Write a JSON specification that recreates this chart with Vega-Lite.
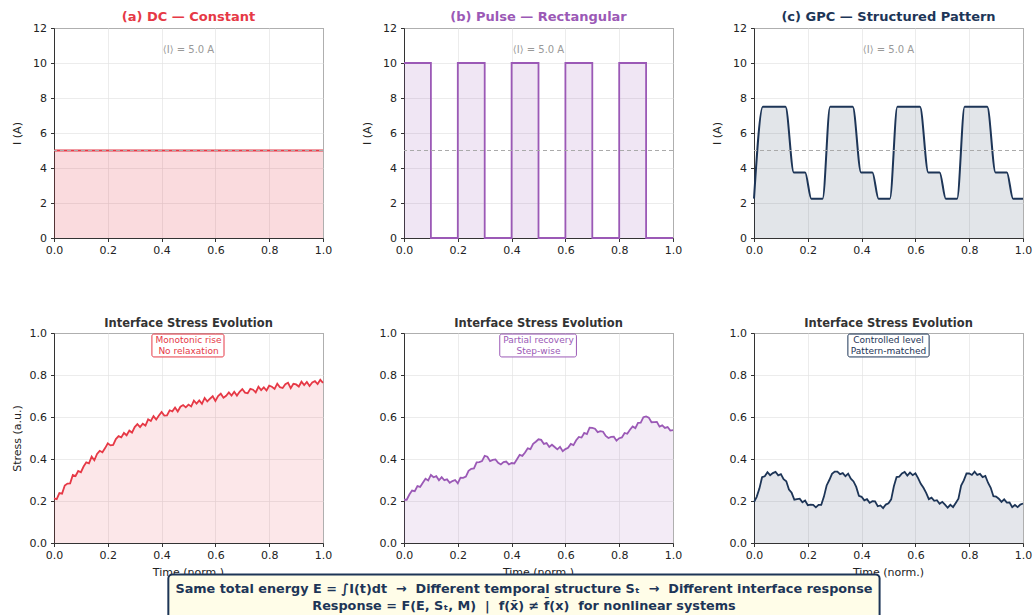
{
  "$schema": "https://vega.github.io/schema/vega-lite/v6.json",
  "padding": {"left": 10, "top": 10, "right": 0, "bottom": 0},
  "background": "white",
  "config": {
    "font": "DejaVu Sans",
    "view": {"stroke": "#333", "strokeWidth": 1},
    "axis": {"labelFontSize": 11, "labelColor": "#222", "titleFontSize": 11, "titleFontWeight": "normal", "titleColor": "#222", "gridColor": "#e4e4e4", "gridOpacity": 0.7, "domainColor": "#333", "tickColor": "#333", "tickSize": 3.5, "labelPadding": 3, "titlePadding": 6, "labelFlush": false, "labelOverlap": false},
    "axisY": {"minExtent": 26, "labelPadding": 4},
    "title": {"fontSize": 13, "fontWeight": "bold", "offset": -2}
  },
  "datasets": {
    "a": [{"t": 0, "y": 5}, {"t": 1, "y": 5}],
    "b": [{"t": 0, "y": 10}, {"t": 0.1, "y": 0}, {"t": 0.2, "y": 10}, {"t": 0.3, "y": 0}, {"t": 0.4, "y": 10}, {"t": 0.5, "y": 0}, {"t": 0.6, "y": 10}, {"t": 0.7, "y": 0}, {"t": 0.8, "y": 10}, {"t": 0.9, "y": 0}, {"t": 1.0, "y": 0}],
    "c": [{"t": 0, "y": 2.25}, {"t": 0.033, "y": 7.5}, {"t": 0.117, "y": 7.5}, {"t": 0.148, "y": 3.75}, {"t": 0.19, "y": 3.75}, {"t": 0.213, "y": 2.25}, {"t": 0.255, "y": 2.25},
          {"t": 0.283, "y": 7.5}, {"t": 0.367, "y": 7.5}, {"t": 0.398, "y": 3.75}, {"t": 0.44, "y": 3.75}, {"t": 0.463, "y": 2.25}, {"t": 0.505, "y": 2.25},
          {"t": 0.533, "y": 7.5}, {"t": 0.617, "y": 7.5}, {"t": 0.648, "y": 3.75}, {"t": 0.69, "y": 3.75}, {"t": 0.713, "y": 2.25}, {"t": 0.755, "y": 2.25},
          {"t": 0.783, "y": 7.5}, {"t": 0.867, "y": 7.5}, {"t": 0.898, "y": 3.75}, {"t": 0.94, "y": 3.75}, {"t": 0.963, "y": 2.25}, {"t": 1.0, "y": 2.25}],
    "d": [{"t":0,"y":0.212},{"t":0.01,"y":0.209},{"t":0.02,"y":0.238},{"t":0.03,"y":0.235},{"t":0.04,"y":0.274},{"t":0.05,"y":0.283},{"t":0.06,"y":0.284},{"t":0.07,"y":0.324},{"t":0.08,"y":0.319},{"t":0.09,"y":0.343},{"t":0.1,"y":0.337},{"t":0.11,"y":0.364},{"t":0.12,"y":0.384},{"t":0.13,"y":0.379},{"t":0.14,"y":0.411},{"t":0.15,"y":0.394},{"t":0.16,"y":0.424},{"t":0.17,"y":0.439},{"t":0.18,"y":0.432},{"t":0.19,"y":0.452},{"t":0.2,"y":0.475},{"t":0.21,"y":0.465},{"t":0.22,"y":0.467},{"t":0.23,"y":0.495},{"t":0.24,"y":0.509},{"t":0.25,"y":0.503},{"t":0.26,"y":0.524},{"t":0.27,"y":0.513},{"t":0.28,"y":0.535},{"t":0.29,"y":0.526},{"t":0.3,"y":0.552},{"t":0.31,"y":0.566},{"t":0.32,"y":0.552},{"t":0.33,"y":0.568},{"t":0.34,"y":0.559},{"t":0.35,"y":0.589},{"t":0.36,"y":0.581},{"t":0.37,"y":0.604},{"t":0.38,"y":0.588},{"t":0.39,"y":0.607},{"t":0.4,"y":0.624},{"t":0.41,"y":0.607},{"t":0.42,"y":0.608},{"t":0.43,"y":0.632},{"t":0.44,"y":0.627},{"t":0.45,"y":0.645},{"t":0.46,"y":0.626},{"t":0.47,"y":0.649},{"t":0.48,"y":0.657},{"t":0.49,"y":0.646},{"t":0.5,"y":0.659},{"t":0.51,"y":0.65},{"t":0.52,"y":0.678},{"t":0.53,"y":0.664},{"t":0.54,"y":0.679},{"t":0.55,"y":0.663},{"t":0.56,"y":0.691},{"t":0.57,"y":0.674},{"t":0.58,"y":0.687},{"t":0.59,"y":0.699},{"t":0.6,"y":0.677},{"t":0.61,"y":0.7},{"t":0.62,"y":0.711},{"t":0.63,"y":0.692},{"t":0.64,"y":0.701},{"t":0.65,"y":0.717},{"t":0.66,"y":0.702},{"t":0.67,"y":0.72},{"t":0.68,"y":0.702},{"t":0.69,"y":0.72},{"t":0.7,"y":0.733},{"t":0.71,"y":0.716},{"t":0.72,"y":0.713},{"t":0.73,"y":0.734},{"t":0.74,"y":0.73},{"t":0.75,"y":0.717},{"t":0.76,"y":0.744},{"t":0.77,"y":0.728},{"t":0.78,"y":0.741},{"t":0.79,"y":0.726},{"t":0.8,"y":0.749},{"t":0.81,"y":0.744},{"t":0.82,"y":0.734},{"t":0.83,"y":0.759},{"t":0.84,"y":0.742},{"t":0.85,"y":0.738},{"t":0.86,"y":0.756},{"t":0.87,"y":0.763},{"t":0.88,"y":0.737},{"t":0.89,"y":0.758},{"t":0.9,"y":0.755},{"t":0.91,"y":0.745},{"t":0.92,"y":0.768},{"t":0.93,"y":0.752},{"t":0.94,"y":0.767},{"t":0.95,"y":0.748},{"t":0.96,"y":0.765},{"t":0.97,"y":0.771},{"t":0.98,"y":0.757},{"t":0.99,"y":0.777},{"t":1,"y":0.763}],
    "e": [{"t":0,"y":0.206},{"t":0.01,"y":0.206},{"t":0.02,"y":0.231},{"t":0.03,"y":0.25},{"t":0.04,"y":0.247},{"t":0.05,"y":0.271},{"t":0.06,"y":0.267},{"t":0.07,"y":0.287},{"t":0.08,"y":0.306},{"t":0.09,"y":0.298},{"t":0.1,"y":0.324},{"t":0.11,"y":0.313},{"t":0.12,"y":0.318},{"t":0.13,"y":0.299},{"t":0.14,"y":0.314},{"t":0.15,"y":0.299},{"t":0.16,"y":0.303},{"t":0.17,"y":0.287},{"t":0.18,"y":0.295},{"t":0.19,"y":0.3},{"t":0.2,"y":0.284},{"t":0.21,"y":0.311},{"t":0.22,"y":0.31},{"t":0.23,"y":0.316},{"t":0.24,"y":0.344},{"t":0.25,"y":0.353},{"t":0.26,"y":0.355},{"t":0.27,"y":0.384},{"t":0.28,"y":0.385},{"t":0.29,"y":0.39},{"t":0.3,"y":0.415},{"t":0.31,"y":0.411},{"t":0.32,"y":0.39},{"t":0.33,"y":0.396},{"t":0.34,"y":0.398},{"t":0.35,"y":0.382},{"t":0.36,"y":0.374},{"t":0.37,"y":0.385},{"t":0.38,"y":0.388},{"t":0.39,"y":0.374},{"t":0.4,"y":0.381},{"t":0.41,"y":0.379},{"t":0.42,"y":0.399},{"t":0.43,"y":0.42},{"t":0.44,"y":0.415},{"t":0.45,"y":0.431},{"t":0.46,"y":0.451},{"t":0.47,"y":0.447},{"t":0.48,"y":0.472},{"t":0.49,"y":0.482},{"t":0.5,"y":0.494},{"t":0.51,"y":0.491},{"t":0.52,"y":0.472},{"t":0.53,"y":0.476},{"t":0.54,"y":0.457},{"t":0.55,"y":0.468},{"t":0.56,"y":0.457},{"t":0.57,"y":0.446},{"t":0.58,"y":0.458},{"t":0.59,"y":0.437},{"t":0.6,"y":0.447},{"t":0.61,"y":0.453},{"t":0.62,"y":0.472},{"t":0.63,"y":0.466},{"t":0.64,"y":0.489},{"t":0.65,"y":0.505},{"t":0.66,"y":0.502},{"t":0.67,"y":0.524},{"t":0.68,"y":0.519},{"t":0.69,"y":0.549},{"t":0.7,"y":0.548},{"t":0.71,"y":0.544},{"t":0.72,"y":0.528},{"t":0.73,"y":0.533},{"t":0.74,"y":0.53},{"t":0.75,"y":0.51},{"t":0.76,"y":0.5},{"t":0.77,"y":0.505},{"t":0.78,"y":0.506},{"t":0.79,"y":0.487},{"t":0.8,"y":0.499},{"t":0.81,"y":0.503},{"t":0.82,"y":0.524},{"t":0.83,"y":0.52},{"t":0.84,"y":0.539},{"t":0.85,"y":0.555},{"t":0.86,"y":0.547},{"t":0.87,"y":0.572},{"t":0.88,"y":0.573},{"t":0.89,"y":0.599},{"t":0.9,"y":0.603},{"t":0.91,"y":0.597},{"t":0.92,"y":0.575},{"t":0.93,"y":0.576},{"t":0.94,"y":0.577},{"t":0.95,"y":0.554},{"t":0.96,"y":0.56},{"t":0.97,"y":0.548},{"t":0.98,"y":0.552},{"t":0.99,"y":0.535},{"t":1,"y":0.537}],
    "f": [{"t":0,"y":0.195},{"t":0.01,"y":0.22},{"t":0.02,"y":0.259},{"t":0.03,"y":0.313},{"t":0.04,"y":0.318},{"t":0.05,"y":0.337},{"t":0.06,"y":0.323},{"t":0.07,"y":0.333},{"t":0.08,"y":0.339},{"t":0.09,"y":0.322},{"t":0.1,"y":0.328},{"t":0.11,"y":0.304},{"t":0.12,"y":0.294},{"t":0.13,"y":0.255},{"t":0.14,"y":0.239},{"t":0.15,"y":0.206},{"t":0.16,"y":0.209},{"t":0.17,"y":0.211},{"t":0.18,"y":0.194},{"t":0.19,"y":0.202},{"t":0.2,"y":0.18},{"t":0.21,"y":0.183},{"t":0.22,"y":0.182},{"t":0.23,"y":0.17},{"t":0.24,"y":0.182},{"t":0.25,"y":0.182},{"t":0.26,"y":0.221},{"t":0.27,"y":0.274},{"t":0.28,"y":0.3},{"t":0.29,"y":0.329},{"t":0.3,"y":0.34},{"t":0.31,"y":0.34},{"t":0.32,"y":0.328},{"t":0.33,"y":0.333},{"t":0.34,"y":0.318},{"t":0.35,"y":0.33},{"t":0.36,"y":0.306},{"t":0.37,"y":0.293},{"t":0.38,"y":0.267},{"t":0.39,"y":0.225},{"t":0.4,"y":0.22},{"t":0.41,"y":0.203},{"t":0.42,"y":0.209},{"t":0.43,"y":0.191},{"t":0.44,"y":0.199},{"t":0.45,"y":0.198},{"t":0.46,"y":0.175},{"t":0.47,"y":0.179},{"t":0.48,"y":0.166},{"t":0.49,"y":0.183},{"t":0.5,"y":0.189},{"t":0.51,"y":0.208},{"t":0.52,"y":0.27},{"t":0.53,"y":0.314},{"t":0.54,"y":0.316},{"t":0.55,"y":0.331},{"t":0.56,"y":0.338},{"t":0.57,"y":0.321},{"t":0.58,"y":0.335},{"t":0.59,"y":0.323},{"t":0.6,"y":0.332},{"t":0.61,"y":0.309},{"t":0.62,"y":0.282},{"t":0.63,"y":0.263},{"t":0.64,"y":0.239},{"t":0.65,"y":0.209},{"t":0.66,"y":0.216},{"t":0.67,"y":0.201},{"t":0.68,"y":0.204},{"t":0.69,"y":0.187},{"t":0.7,"y":0.196},{"t":0.71,"y":0.183},{"t":0.72,"y":0.168},{"t":0.73,"y":0.182},{"t":0.74,"y":0.171},{"t":0.75,"y":0.191},{"t":0.76,"y":0.211},{"t":0.77,"y":0.273},{"t":0.78,"y":0.298},{"t":0.79,"y":0.331},{"t":0.8,"y":0.331},{"t":0.81,"y":0.324},{"t":0.82,"y":0.34},{"t":0.83,"y":0.324},{"t":0.84,"y":0.329},{"t":0.85,"y":0.314},{"t":0.86,"y":0.319},{"t":0.87,"y":0.287},{"t":0.88,"y":0.263},{"t":0.89,"y":0.223},{"t":0.9,"y":0.221},{"t":0.91,"y":0.211},{"t":0.92,"y":0.196},{"t":0.93,"y":0.208},{"t":0.94,"y":0.192},{"t":0.95,"y":0.193},{"t":0.96,"y":0.171},{"t":0.97,"y":0.181},{"t":0.98,"y":0.171},{"t":0.99,"y":0.183},{"t":1,"y":0.188}]
  },
  "spacing": 61,
  "vconcat": [
    {
      "bounds": "flush",
      "spacing": 81,
      "hconcat": [
        {
          "width": 269, "height": 210,
          "title": {"text": "(a) DC — Constant", "color": "#e63946"},
          "layer": [
            {"data": {"name": "a"}, "mark": {"type": "area", "color": "#e63946", "opacity": 0.18},
             "encoding": {
              "x": {"field": "t", "type": "quantitative", "scale": {"domain": [0, 1], "nice": false}, "axis": {"title": null, "values": [0, 0.2, 0.4, 0.6, 0.8, 1], "format": ".1f"}},
              "y": {"field": "y", "type": "quantitative", "scale": {"domain": [0, 12], "nice": false}, "axis": {"title": "I (A)", "values": [0, 2, 4, 6, 8, 10, 12]}}}},
            {"data": {"name": "a"}, "mark": {"type": "line", "color": "#e63946", "strokeWidth": 2},
             "encoding": {"x": {"field": "t", "type": "quantitative"}, "y": {"field": "y", "type": "quantitative", "axis": {"title": "I (A)", "values": [0, 2, 4, 6, 8, 10, 12]}}}},
            {"data": {"values": [{}]}, "mark": {"type": "rule", "color": "#aaaaaa", "strokeDash": [4, 3], "strokeWidth": 1}, "encoding": {"y": {"datum": 5, "type": "quantitative", "axis": {"title": "I (A)", "values": [0, 2, 4, 6, 8, 10, 12]}}}},
            {"data": {"values": [{}]}, "mark": {"type": "text", "text": "⟨I⟩ = 5.0 A", "color": "#999999", "fontSize": 10}, "encoding": {"x": {"datum": 0.5, "type": "quantitative"}, "y": {"datum": 10.75, "type": "quantitative", "axis": {"title": "I (A)", "values": [0, 2, 4, 6, 8, 10, 12]}}}}
          ]
        },
        {
          "width": 269, "height": 210,
          "title": {"text": "(b) Pulse — Rectangular", "color": "#9b59b6"},
          "layer": [
            {"data": {"name": "b"}, "mark": {"type": "area", "color": "#9b59b6", "opacity": 0.15, "interpolate": "step-after"},
             "encoding": {
              "x": {"field": "t", "type": "quantitative", "scale": {"domain": [0, 1], "nice": false}, "axis": {"title": null, "values": [0, 0.2, 0.4, 0.6, 0.8, 1], "format": ".1f"}},
              "y": {"field": "y", "type": "quantitative", "scale": {"domain": [0, 12], "nice": false}, "axis": {"title": "I (A)", "values": [0, 2, 4, 6, 8, 10, 12]}}}},
            {"data": {"name": "b"}, "mark": {"type": "line", "color": "#9b59b6", "strokeWidth": 1.8, "interpolate": "step-after"},
             "encoding": {"x": {"field": "t", "type": "quantitative"}, "y": {"field": "y", "type": "quantitative", "axis": {"title": "I (A)", "values": [0, 2, 4, 6, 8, 10, 12]}}}},
            {"data": {"values": [{}]}, "mark": {"type": "rule", "color": "#aaaaaa", "strokeDash": [4, 3], "strokeWidth": 1}, "encoding": {"y": {"datum": 5, "type": "quantitative", "axis": {"title": "I (A)", "values": [0, 2, 4, 6, 8, 10, 12]}}}},
            {"data": {"values": [{}]}, "mark": {"type": "text", "text": "⟨I⟩ = 5.0 A", "color": "#999999", "fontSize": 10}, "encoding": {"x": {"datum": 0.5, "type": "quantitative"}, "y": {"datum": 10.75, "type": "quantitative", "axis": {"title": "I (A)", "values": [0, 2, 4, 6, 8, 10, 12]}}}}
          ]
        },
        {
          "width": 269, "height": 210,
          "title": {"text": "(c) GPC — Structured Pattern", "color": "#1d3557"},
          "layer": [
            {"data": {"name": "c"}, "mark": {"type": "area", "color": "#1d3557", "opacity": 0.13, "interpolate": "monotone"},
             "encoding": {
              "x": {"field": "t", "type": "quantitative", "scale": {"domain": [0, 1], "nice": false}, "axis": {"title": null, "values": [0, 0.2, 0.4, 0.6, 0.8, 1], "format": ".1f"}},
              "y": {"field": "y", "type": "quantitative", "scale": {"domain": [0, 12], "nice": false}, "axis": {"title": "I (A)", "values": [0, 2, 4, 6, 8, 10, 12]}}}},
            {"data": {"name": "c"}, "mark": {"type": "line", "color": "#1d3557", "strokeWidth": 2, "interpolate": "monotone"},
             "encoding": {"x": {"field": "t", "type": "quantitative"}, "y": {"field": "y", "type": "quantitative", "axis": {"title": "I (A)", "values": [0, 2, 4, 6, 8, 10, 12]}}}},
            {"data": {"values": [{}]}, "mark": {"type": "rule", "color": "#aaaaaa", "strokeDash": [4, 3], "strokeWidth": 1}, "encoding": {"y": {"datum": 5, "type": "quantitative", "axis": {"title": "I (A)", "values": [0, 2, 4, 6, 8, 10, 12]}}}},
            {"data": {"values": [{}]}, "mark": {"type": "text", "text": "⟨I⟩ = 5.0 A", "color": "#999999", "fontSize": 10}, "encoding": {"x": {"datum": 0.5, "type": "quantitative"}, "y": {"datum": 10.75, "type": "quantitative", "axis": {"title": "I (A)", "values": [0, 2, 4, 6, 8, 10, 12]}}}}
          ]
        }
      ]
    },
    {
      "spacing": 0,
      "vconcat": [
        {
          "bounds": "flush",
          "spacing": 81,
          "hconcat": [
            {
              "width": 269, "height": 210,
              "title": {"text": "Interface Stress Evolution", "color": "#333333", "fontSize": 11.5},
              "layer": [
                {"data": {"name": "d"}, "mark": {"type": "area", "color": "#e63946", "opacity": 0.12},
                 "encoding": {
                  "x": {"field": "t", "type": "quantitative", "scale": {"domain": [0, 1], "nice": false}, "axis": {"title": null, "values": [0, 0.2, 0.4, 0.6, 0.8, 1], "format": ".1f"}},
                  "y": {"field": "y", "type": "quantitative", "scale": {"domain": [0, 1], "nice": false}, "axis": {"title": "Stress (a.u.)", "values": [0, 0.2, 0.4, 0.6, 0.8, 1], "format": ".1f"}}}},
                {"data": {"name": "d"}, "mark": {"type": "line", "color": "#e63946", "strokeWidth": 1.8},
                 "encoding": {"x": {"field": "t", "type": "quantitative"}, "y": {"field": "y", "type": "quantitative"}}},
                {"data": {"values": [{}]}, "mark": {"type": "rect", "fill": "white", "fillOpacity": 0.85, "stroke": "#e63946", "strokeWidth": 1, "cornerRadius": 2}, "encoding": {"x": {"datum": 0.364, "type": "quantitative"}, "x2": {"datum": 0.632}, "y": {"datum": 0.995, "type": "quantitative"}, "y2": {"datum": 0.886}}},
                {"data": {"values": [{}]}, "mark": {"type": "text", "text": ["Monotonic rise", "No relaxation"], "color": "#e63946", "fontSize": 9, "lineHeight": 11, "baseline": "middle"}, "encoding": {"x": {"datum": 0.5, "type": "quantitative"}, "y": {"datum": 0.967, "type": "quantitative"}}}
              ]
            },
            {
              "width": 269, "height": 210,
              "title": {"text": "Interface Stress Evolution", "color": "#333333", "fontSize": 11.5},
              "layer": [
                {"data": {"name": "e"}, "mark": {"type": "area", "color": "#9b59b6", "opacity": 0.12},
                 "encoding": {
                  "x": {"field": "t", "type": "quantitative", "scale": {"domain": [0, 1], "nice": false}, "axis": {"title": null, "values": [0, 0.2, 0.4, 0.6, 0.8, 1], "format": ".1f"}},
                  "y": {"field": "y", "type": "quantitative", "scale": {"domain": [0, 1], "nice": false}, "axis": {"title": null, "values": [0, 0.2, 0.4, 0.6, 0.8, 1], "format": ".1f"}}}},
                {"data": {"name": "e"}, "mark": {"type": "line", "color": "#9b59b6", "strokeWidth": 1.8},
                 "encoding": {"x": {"field": "t", "type": "quantitative"}, "y": {"field": "y", "type": "quantitative"}}},
                {"data": {"values": [{}]}, "mark": {"type": "rect", "fill": "white", "fillOpacity": 0.85, "stroke": "#9b59b6", "strokeWidth": 1, "cornerRadius": 2}, "encoding": {"x": {"datum": 0.356, "type": "quantitative"}, "x2": {"datum": 0.641}, "y": {"datum": 0.995, "type": "quantitative"}, "y2": {"datum": 0.886}}},
                {"data": {"values": [{}]}, "mark": {"type": "text", "text": ["Partial recovery", "Step-wise"], "color": "#9b59b6", "fontSize": 9, "lineHeight": 11, "baseline": "middle"}, "encoding": {"x": {"datum": 0.5, "type": "quantitative"}, "y": {"datum": 0.967, "type": "quantitative"}}}
              ]
            },
            {
              "width": 269, "height": 210,
              "title": {"text": "Interface Stress Evolution", "color": "#333333", "fontSize": 11.5},
              "layer": [
                {"data": {"name": "f"}, "mark": {"type": "area", "color": "#1d3557", "opacity": 0.12},
                 "encoding": {
                  "x": {"field": "t", "type": "quantitative", "scale": {"domain": [0, 1], "nice": false}, "axis": {"title": null, "values": [0, 0.2, 0.4, 0.6, 0.8, 1], "format": ".1f"}},
                  "y": {"field": "y", "type": "quantitative", "scale": {"domain": [0, 1], "nice": false}, "axis": {"title": null, "values": [0, 0.2, 0.4, 0.6, 0.8, 1], "format": ".1f"}}}},
                {"data": {"name": "f"}, "mark": {"type": "line", "color": "#1d3557", "strokeWidth": 1.8},
                 "encoding": {"x": {"field": "t", "type": "quantitative"}, "y": {"field": "y", "type": "quantitative"}}},
                {"data": {"values": [{}]}, "mark": {"type": "rect", "fill": "white", "fillOpacity": 0.85, "stroke": "#1d3557", "strokeWidth": 1, "cornerRadius": 2}, "encoding": {"x": {"datum": 0.349, "type": "quantitative"}, "x2": {"datum": 0.651}, "y": {"datum": 0.995, "type": "quantitative"}, "y2": {"datum": 0.886}}},
                {"data": {"values": [{}]}, "mark": {"type": "text", "text": ["Controlled level", "Pattern-matched"], "color": "#1d3557", "fontSize": 9, "lineHeight": 11, "baseline": "middle"}, "encoding": {"x": {"datum": 0.5, "type": "quantitative"}, "y": {"datum": 0.967, "type": "quantitative"}}}
              ]
            }
          ]
        },
        {
          "width": 969, "height": 55,
          "view": {"stroke": null},
          "layer": [
            {"data": {"values": [{"x": 0.1388}, {"x": 0.5}, {"x": 0.8612}]}, "mark": {"type": "text", "text": "Time (norm.)", "color": "#222222", "fontSize": 11, "baseline": "middle"}, "encoding": {"x": {"field": "x", "type": "quantitative", "scale": {"domain": [0, 1], "nice": false}, "axis": null}, "y": {"datum": 0.79, "type": "quantitative", "scale": {"domain": [0, 1], "nice": false}, "axis": null}}},
            {"data": {"values": [{}]}, "mark": {"type": "rect", "fill": "#fffde8", "stroke": "#1d3557", "strokeWidth": 2, "cornerRadius": 4}, "encoding": {"x": {"datum": 0.118, "type": "quantitative"}, "x2": {"datum": 0.852}, "y": {"datum": -0.05, "type": "quantitative"}, "y2": {"datum": 0.755}}},
            {"data": {"values": [{}]}, "mark": {"type": "text", "text": ["Same total energy E = ∫I(t)dt \u00a0→\u00a0 Different temporal structure Sₜ \u00a0→\u00a0 Different interface response", "Response = F(E, Sₜ, M) \u00a0|\u00a0 f(x̄) ≠ f̄(x) \u00a0for nonlinear systems"], "color": "#1d3557", "fontSize": 12.8, "fontWeight": "bold", "lineHeight": 17, "baseline": "middle"}, "encoding": {"x": {"datum": 0.485, "type": "quantitative"}, "y": {"datum": 0.5, "type": "quantitative"}}}
          ]
        }
      ]
    }
  ]
}
